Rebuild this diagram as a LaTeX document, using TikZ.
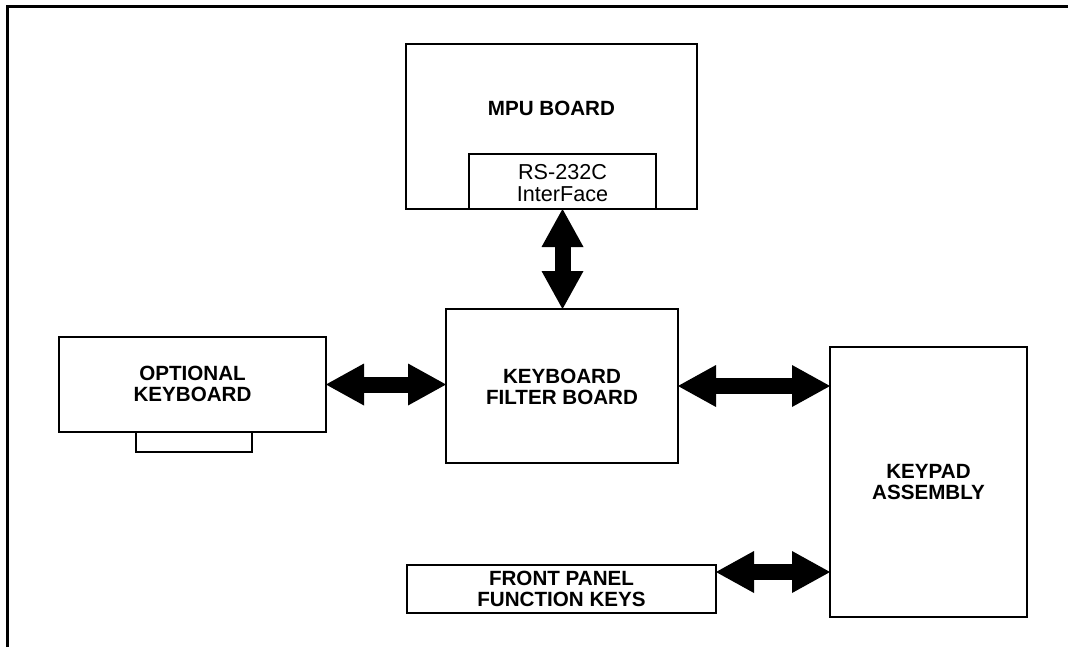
\documentclass[tikz,border=0pt]{standalone}
\usepackage{fontspec}
\setmainfont{Liberation Sans}
\usetikzlibrary{arrows.meta}

\tikzset{
  box/.style={draw,line width=1pt,inner sep=0pt,outer sep=0pt},
  lbl/.style={font=\fontsize{10.3}{10.6}\selectfont\bfseries,align=center,inner sep=0pt},
  lblthin/.style={font=\fontsize{10.8}{10.8}\selectfont,align=center,inner sep=0pt},
  link/.style={line width=8pt,
    {Triangle[length=19pt,width=21pt,line width=0pt]}-{Triangle[length=19pt,width=21pt,line width=0pt]}}
}

\begin{document}
\begin{tikzpicture}[x=0.5pt,y=-0.5pt]

\useasboundingbox (0,0) rectangle (1068,647);

\draw[line width=1.5pt] (7.5,647) -- (7.5,6.5) -- (1068,6.5);

\node[box,minimum width=145.5pt,minimum height=82.5pt] (mpu) at (551.5,126.5) {};
\node[lbl] (mputext) at (551.5,108) {MPU BOARD};
\node[box,minimum width=93.5pt,minimum height=27.5pt] (rs) at (562.5,181.5) {};
\node[lblthin] (rstext) at (562.5,183) {RS-232C\\InterFace};

\node[box,minimum width=116pt,minimum height=77pt] (kfb) at (562,386) {};
\node[lbl] (kfbtext) at (562,387) {KEYBOARD\\FILTER BOARD};

\node[box,minimum width=133.5pt,minimum height=47.5pt] (okb) at (192.5,384.5) {};
\node[lbl] (okbtext) at (192.5,384) {OPTIONAL\\KEYBOARD};
\draw[line width=1pt] (136,432) -- (136,452) -- (252,452) -- (252,432);

\node[box,minimum width=98.5pt,minimum height=135pt] (kpa) at (928.5,482) {};
\node[lbl] (kpatext) at (928.5,482) {KEYPAD\\ASSEMBLY};

\node[box,minimum width=154.5pt,minimum height=24pt] (fpk) at (561.5,589) {};
\node[lbl] (fpktext) at (561.5,589) {FRONT PANEL\\FUNCTION KEYS};

\draw[link] (rs.south) -- (rs.south |- kfb.north);
\draw[link] (okb.east) -- (okb.east -| kfb.west);
\draw[link] (kfb.east) -- (kfb.east -| kpa.west);
\draw[link] ([yshift=8.5pt]fpk.east) -- ([yshift=8.5pt]fpk.east -| kpa.west);

\end{tikzpicture}
\end{document}
